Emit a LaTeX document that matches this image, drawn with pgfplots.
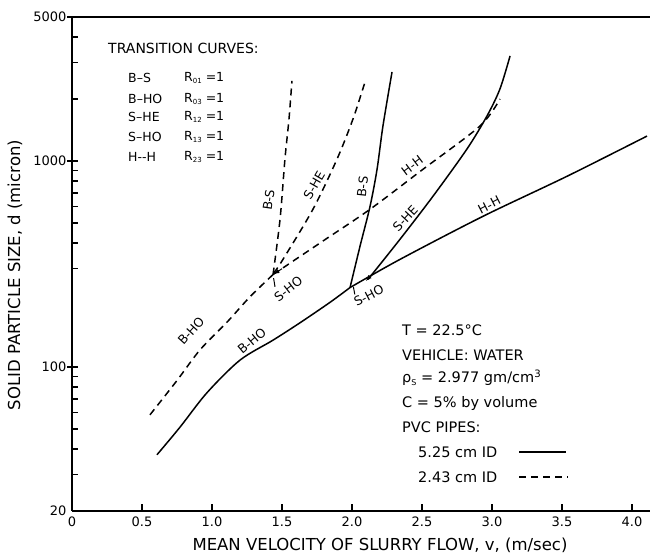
\documentclass[border=0pt]{standalone}
\usepackage{fontspec}
\setmainfont{DejaVu Sans}
\usepackage{pgfplots}
\pgfplotsset{compat=1.18}
\begin{document}
\begin{tikzpicture}
\path[use as bounding box] (-72pt,-45pt) rectangle (578pt,511pt);
\begin{axis}[
  at={(0pt,0pt)}, anchor=south west, scale only axis,
  width=578pt, height=494pt,
  xmin=0, xmax=4.1286, ymin=20, ymax=5000, ymode=log,
  axis x line=bottom, axis y line=left,
  axis line style={-, line width=1.2pt},
  xtick={0,0.5,1,1.5,2,2.5,3,3.5,4},
  xticklabels={0,0.5,1.0,1.5,2.0,2.5,3.0,3.5,4.0},
  ytick={20,100,1000,5000}, yticklabels={20,100,1000,5000},
  major tick length=0pt, minor tick length=0pt,
  ticklabel style={font=\fontsize{13}{15}\selectfont},
  xticklabel style={yshift=-2pt},
  yticklabel style={xshift=-2pt},
  /pgf/number format/assume math mode=true,
  clip=false,
  cycle list={{black, no markers, line width=1.5pt}},
  every axis plot/.append style={smooth, tension=0.5, line width=1.5pt},
]
\draw[line width=1.2pt] (rel axis cs:0,1) -- (rel axis cs:1,1);
% ---------- 2.43 cm ID (dashed) ----------
\addplot+[dash pattern=on 7pt off 5pt] coordinates {(0.557,58.6) (0.75,86) (0.914,121) (1.107,165) (1.271,219) (1.436,281)};
\addplot+[dash pattern=on 7pt off 5pt] coordinates {(1.436,281) (1.8,412) (2.129,583) (2.5,904) (2.914,1478) (3.057,2000)};
\addplot+[dash pattern=on 7pt off 5pt] coordinates {(1.436,281) (1.486,521) (1.521,1021) (1.55,1600) (1.571,2450)};
\addplot+[dash pattern=on 7pt off 5pt] coordinates {(1.44,285) (1.507,333) (1.721,583) (1.893,1021) (2.007,1599) (2.093,2420)};
% ---------- 5.25 cm ID (solid) ----------
\addplot+[solid] coordinates {(0.607,37.5) (0.771,51) (0.964,75) (1.2,108) (1.436,135) (1.629,164) (1.843,206) (1.986,243)};
\addplot+[solid] coordinates {(1.986,243) (2.057,385) (2.129,603) (2.179,912) (2.221,1478) (2.286,2706)};
\addplot+[solid] coordinates {(2.114,266) (2.343,417) (2.579,675) (2.821,1143) (2.964,1653) (3.057,2239) (3.129,3237)};
\addplot+[solid] coordinates {(1.986,243) (2.343,333) (2.936,539) (3.536,843) (4.107,1321)};
% small arrows at the S-HO points
\draw[-latex, line width=1pt] (axis cs:1.50,300) -- (axis cs:1.44,282);
\draw[line width=1pt] (axis cs:1.44,270) -- (axis cs:1.45,245);
\draw[-latex, line width=1pt] (axis cs:2.15,285) -- (axis cs:2.10,262);
\draw[line width=1pt] (axis cs:2.01,245) -- (axis cs:2.02,225);
% ---------- curve labels ----------
\begin{scope}[every node/.style={font=\fontsize{12.5}{14}\selectfont, inner sep=1pt}]
\node[rotate=82] at (axis cs:1.405,647) {B-S};
\node[rotate=60] at (axis cs:1.73,760) {S-HE};
\node[rotate=84] at (axis cs:2.075,748) {B-S};
\node[rotate=37] at (axis cs:2.43,950) {H-H};
\node[rotate=47] at (axis cs:2.38,525) {S-HE};
\node[rotate=38] at (axis cs:1.545,240) {S-HO};
\node[rotate=27] at (axis cs:2.12,222) {S-HO};
\node[rotate=27] at (axis cs:2.98,612) {H-H};
\node[rotate=48] at (axis cs:0.85,150) {B-HO};
\node[rotate=40] at (axis cs:1.285,134) {B-HO};
\end{scope}
\end{axis}
% tick marks (axis box: 140 pt per m/s, 206.01 pt per decade from 20)
\foreach \tx in {70,140,210,280,350,420,490,560}{\draw[line width=1.3pt] (\tx pt,0pt) -- (\tx pt,7pt);}
\foreach \ty in {144.0,350.01,494}{\draw[line width=1.3pt] (-5pt,\ty pt) -- (6pt,\ty pt);}
\foreach \ty in {36.28,62.02,81.98,98.29,112.08,124.03,134.57,242.29,268.02,287.98,304.30,318.09,330.04,340.57,412.02,448.30,474.04}{\draw[line width=1.3pt] (0pt,\ty pt) -- (5.5pt,\ty pt);}
% axis labels
\node[rotate=90, font=\fontsize{16.5}{18}\selectfont] at (-57pt,236pt) {SOLID PARTICLE SIZE, d (micron)};
\node[font=\fontsize{16.5}{18}\selectfont] at (308pt,-34pt) {MEAN VELOCITY OF SLURRY FLOW, v, (m/sec)};
% transition curves block
\node[anchor=west, inner sep=0pt, font=\fontsize{14}{16}\selectfont] at (36pt,463pt) {TRANSITION CURVES:};
\begin{scope}[every node/.style={anchor=west, font=\fontsize{12.5}{14}\selectfont, inner sep=0pt}]
\node at (56pt,433pt) {B–S};   \node at (112pt,433pt) {R\raisebox{-0.4ex}{\scriptsize 01} =1};
\node at (56pt,412pt) {B–HO};  \node at (112pt,412pt) {R\raisebox{-0.4ex}{\scriptsize 03} =1};
\node at (56pt,394pt) {S–HE};  \node at (112pt,394pt) {R\raisebox{-0.4ex}{\scriptsize 12} =1};
\node at (56pt,374pt) {S–HO};  \node at (112pt,374pt) {R\raisebox{-0.4ex}{\scriptsize 13} =1};
\node at (56pt,354pt) {H-{}-H}; \node at (112pt,354pt) {R\raisebox{-0.4ex}{\scriptsize 23} =1};
\end{scope}
% conditions block
\begin{scope}[every node/.style={anchor=west, font=\fontsize{14.5}{16}\selectfont, inner sep=0pt}]
\node at (330pt,181pt) {T = 22.5°C};
\node at (330pt,156pt) {VEHICLE: WATER};
\node at (330pt,133pt) {ρ\raisebox{-0.4ex}{\footnotesize S} = 2.977 gm/cm\textsuperscript{3}};
\node at (330pt,107pt) {C = 5\% by volume};
\node at (330pt,84pt) {PVC PIPES:};
\node at (346pt,59pt) {5.25 cm ID};
\node at (346pt,34pt) {2.43 cm ID};
\end{scope}
\draw[line width=1.5pt] (447pt,59pt) -- (494pt,59pt);
\draw[line width=1.5pt, dash pattern=on 7pt off 5pt] (447pt,34pt) -- (496pt,34pt);
\end{tikzpicture}
\end{document}
